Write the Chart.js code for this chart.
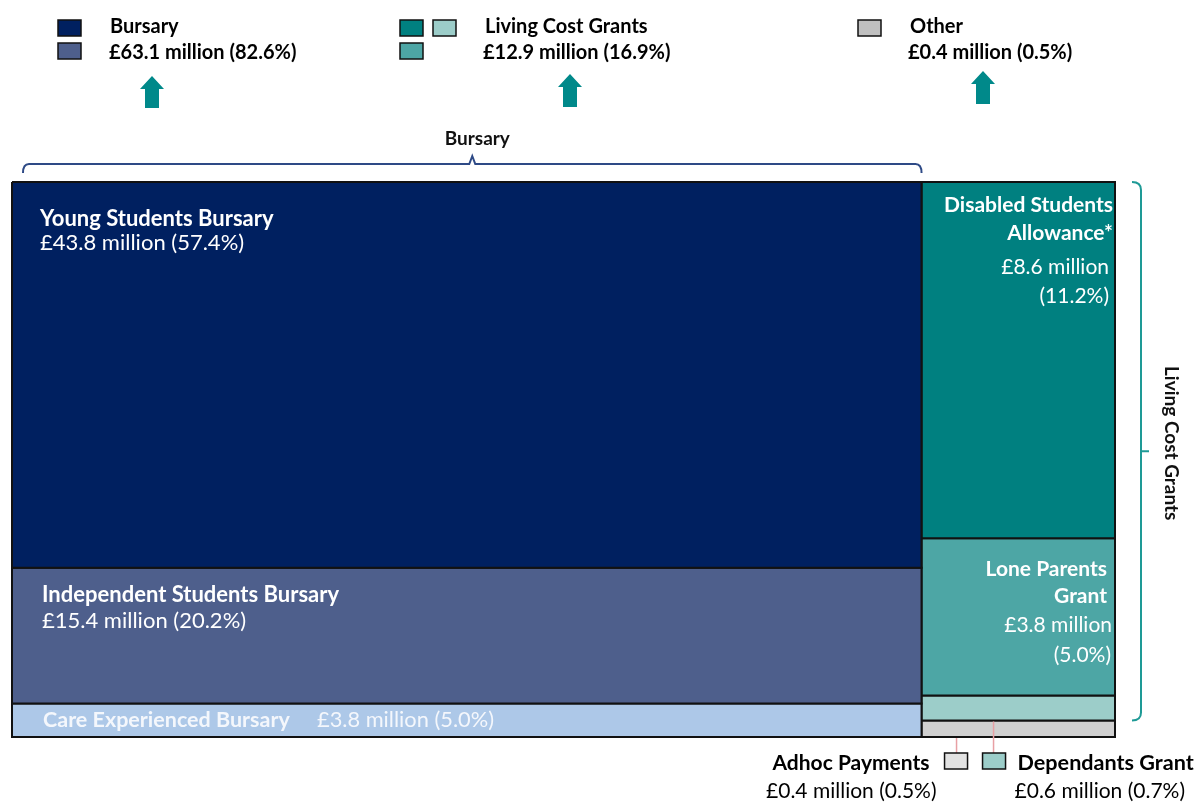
<!DOCTYPE html>
<html lang="en">
<head>
<meta charset="utf-8">
<title>Student support funding</title>
<script src="https://cdn.jsdelivr.net/npm/chart.js@4.4.1/dist/chart.umd.min.js"></script>
<style>
  html, body { margin: 0; padding: 0; background: #fff; }
  #wrap { width: 1198px; height: 803px; }
</style>
</head>
<body>
<div id="wrap"><canvas id="myChart" width="1198" height="803"></canvas></div>
<script>
//! DATA

// top level groups shown in the key
const groupNames = ["Bursary", "Living Cost Grants", "Other"];
const groupValues = [63.1, 12.9, 0.4];
const groupShares = [82.6, 16.9, 0.5];

// individual funds, in the order they are stacked
const fundNames = [
  "Young Students Bursary",
  "Independent Students Bursary",
  "Care Experienced Bursary",
  "Disabled Students Allowance*",
  "Lone Parents Grant",
  "Dependants Grant",
  "Adhoc Payments"
];
const fundValues = [43.8, 15.4, 3.8, 8.6, 3.8, 0.6, 0.4];
const fundShares = [57.4, 20.2, 5.0, 11.2, 5.0, 0.7, 0.5];
// treemap column of each fund (0 = bursary, 1 = living cost grants + other)
const fundColumn = [0, 0, 0, 1, 1, 1, 1];

//! STYLE

const fundColors = ["#002060", "#4e5f8c", "#adc8e8", "#008080", "#4da6a5", "#9ccdc9", "#d0d0d0"];
const FONT = "Lato, 'Open Sans', sans-serif";
const TEAL = "#00898a";

//! LAYOUT

// column widths follow the column totals, heights the share inside the column
const columnTotals = [0, 0];
fundValues.forEach((v, i) => (columnTotals[fundColumn[i]] += v));
const columnStart = [0, columnTotals[0]];
const used = [0, 0];
const tiles = fundValues.map((v, i) => {
  const c = fundColumn[i];
  const yTop = 1 - used[c] / columnTotals[c];
  used[c] += v;
  return {
    x0: columnStart[c],
    x1: columnStart[c] + columnTotals[c],
    yTop: yTop,
    yBot: Math.max(0, 1 - used[c] / columnTotals[c])
  };
});

const money = (v, s) => `£${v.toFixed(1)} million (${s.toFixed(1)}%)`;

//! FUNCTIONS

function text(ctx, str, x, y, font, color, align) {
  ctx.font = font;
  ctx.fillStyle = color || "#000";
  ctx.textAlign = align || "left";
  ctx.textBaseline = "alphabetic";
  ctx.fillText(str, x, y);
}

function swatch(ctx, x, y, color) {
  ctx.fillStyle = color;
  ctx.fillRect(x, y, 23, 16);
  ctx.strokeStyle = "#111";
  ctx.lineWidth = 1.5;
  ctx.strokeRect(x, y, 23, 16);
}

function arrow(ctx, cx, top, bottom) {
  ctx.fillStyle = TEAL;
  ctx.beginPath();
  ctx.moveTo(cx, top);
  ctx.lineTo(cx + 12, top + 13);
  ctx.lineTo(cx + 7, top + 13);
  ctx.lineTo(cx + 7, bottom);
  ctx.lineTo(cx - 7, bottom);
  ctx.lineTo(cx - 7, top + 13);
  ctx.lineTo(cx - 12, top + 13);
  ctx.closePath();
  ctx.fill();
}

// labels, key, brackets and call-outs
const decorations = {
  id: "decorations",
  afterDatasetsDraw(chart) {
    const { ctx, scales: { x, y } } = chart;
    const px = tiles.map(t => ({
      left: x.getPixelForValue(t.x0),
      right: x.getPixelForValue(t.x1),
      top: y.getPixelForValue(t.yTop),
      bottom: y.getPixelForValue(t.yBot)
    }));
    ctx.save();

    // key
    const keyBold = `bold 20px ${FONT}`;
    swatch(ctx, 58, 20, fundColors[0]);
    swatch(ctx, 58, 43, fundColors[1]);
    text(ctx, groupNames[0], 110, 33, keyBold);
    text(ctx, money(groupValues[0], groupShares[0]), 109, 59, keyBold);
    arrow(ctx, 152, 76, 108);

    swatch(ctx, 400, 20, fundColors[3]);
    swatch(ctx, 433, 20, fundColors[5]);
    swatch(ctx, 400, 43, fundColors[4]);
    text(ctx, groupNames[1], 485, 33, keyBold);
    text(ctx, money(groupValues[1], groupShares[1]), 483, 59, keyBold);
    arrow(ctx, 570, 74, 107);

    swatch(ctx, 858, 20, "#c0c0c0");
    text(ctx, groupNames[2], 910, 33, keyBold);
    text(ctx, money(groupValues[2], groupShares[2]), 908, 59, keyBold);
    arrow(ctx, 983, 71, 104);

    // bursary bracket over the left column
    const bL = px[0].left + 11, bR = px[0].right, bC = (bL + bR) / 2, bY = px[0].top - 18;
    ctx.strokeStyle = "#2e4a86";
    ctx.lineWidth = 2;
    ctx.beginPath();
    ctx.moveTo(bL, bY + 9);
    ctx.quadraticCurveTo(bL, bY, bL + 6, bY);
    ctx.lineTo(bC - 3, bY);
    ctx.lineTo(bC, bY - 8);
    ctx.lineTo(bC + 3, bY);
    ctx.lineTo(bR - 6, bY);
    ctx.quadraticCurveTo(bR, bY, bR, bY + 9);
    ctx.stroke();
    text(ctx, groupNames[0], bC + 5, 145, `bold 19px ${FONT}`, "#111", "center");

    // living cost grants bracket beside the right column
    const lX = px[3].right + 26, lT = px[3].top, lB = px[5].bottom, lM = (lT + lB) / 2;
    ctx.strokeStyle = "#1e9a96";
    ctx.beginPath();
    ctx.moveTo(lX - 9, lT);
    ctx.quadraticCurveTo(lX, lT, lX, lT + 8);
    ctx.lineTo(lX, lB - 8);
    ctx.quadraticCurveTo(lX, lB, lX - 9, lB);
    ctx.moveTo(lX, lM);
    ctx.lineTo(lX + 8, lM);
    ctx.stroke();
    ctx.save();
    ctx.translate(lX + 30, lM - 8);
    ctx.rotate(Math.PI / 2);
    ctx.textBaseline = "middle";
    ctx.textAlign = "center";
    ctx.font = `bold 19px ${FONT}`;
    ctx.fillStyle = "#111";
    ctx.fillText(groupNames[1], 0, 0);
    ctx.restore();

    // tile labels
    const tBold = `bold 22px ${FONT}`, tReg = `22px ${FONT}`;
    const white = "#fff";
    text(ctx, fundNames[0], px[0].left + 28, px[0].top + 44, tBold, white);
    text(ctx, money(fundValues[0], fundShares[0]), px[0].left + 28, px[0].top + 68, tReg, white);

    text(ctx, fundNames[1], px[1].left + 30, px[1].top + 34, tBold, white);
    text(ctx, money(fundValues[1], fundShares[1]), px[1].left + 30, px[1].top + 60, tReg, white);

    const careY = (px[2].top + px[2].bottom) / 2 + 7;
    text(ctx, fundNames[2], px[2].left + 31, careY, `bold 21.5px ${FONT}`, "#f4f7fc");
    text(ctx, money(fundValues[2], fundShares[2]), px[2].left + 305, careY, `21.8px ${FONT}`, "#f4f7fc");

    const sBold = `bold 21px ${FONT}`, sReg = `21px ${FONT}`;
    const r3 = px[3].right;
    text(ctx, "Disabled Students", r3 - 2, px[3].top + 30, sBold, white, "right");
    text(ctx, "Allowance*", r3 - 2, px[3].top + 58, sBold, white, "right");
    text(ctx, `£${fundValues[3].toFixed(1)} million`, r3 - 6, px[3].top + 92, sReg, white, "right");
    text(ctx, `(${fundShares[3].toFixed(1)}%)`, r3 - 6, px[3].top + 121, sReg, white, "right");

    const r4 = px[4].right;
    text(ctx, "Lone Parents", r4 - 8, px[4].top + 38, sBold, white, "right");
    text(ctx, "Grant", r4 - 8, px[4].top + 65, sBold, white, "right");
    text(ctx, `£${fundValues[4].toFixed(1)} million`, r4 - 3, px[4].top + 94, sReg, white, "right");
    text(ctx, `(${fundShares[4].toFixed(1)}%)`, r4 - 4, px[4].top + 124, sReg, white, "right");

    // call-outs for the two thin tiles
    const l6 = px[6].left;
    ctx.strokeStyle = "#e8a0a4";
    ctx.lineWidth = 1.5;
    ctx.beginPath();
    ctx.moveTo(l6 + 35, px[6].bottom + 1);
    ctx.lineTo(l6 + 35, 753);
    ctx.moveTo(l6 + 72, px[5].bottom + 1);
    ctx.lineTo(l6 + 72, 753);
    ctx.stroke();
    swatch(ctx, l6 + 23, 753, "#e2e2e2");
    swatch(ctx, l6 + 61, 753, fundColors[5]);

    text(ctx, fundNames[6], l6 + 8, 770, `bold 21px ${FONT}`, "#000", "right");
    text(ctx, money(fundValues[6], fundShares[6]), l6 + 15, 798, `21px ${FONT}`, "#000", "right");
    text(ctx, fundNames[5], l6 + 96, 770, `bold 21.6px ${FONT}`, "#000", "left");
    text(ctx, money(fundValues[5], fundShares[5]), l6 + 93, 798, `21px ${FONT}`, "#000", "left");

    ctx.restore();
  }
};

//! CHART

const ctx = document.getElementById("myChart");
const datasets = tiles.map((t, i) => ({
  label: fundNames[i],
  data: [
    { x: t.x0, y: t.yTop },
    { x: t.x1, y: t.yTop },
    { x: t.x1, y: t.yBot },
    { x: t.x0, y: t.yBot },
    { x: t.x0, y: t.yTop }
  ],
  backgroundColor: fundColors[i],
  borderColor: "#111",
  borderWidth: 2,
  borderJoinStyle: "miter",
  fill: "shape",
  pointRadius: 0,
  tension: 0,
  clip: false
}));

new Chart(ctx, {
  type: "line",
  data: { datasets: datasets },
  options: {
    responsive: false,
    animation: false,
    events: [],
    layout: { padding: { left: 12, right: 83, top: 182, bottom: 66 } },
    plugins: { legend: { display: false }, tooltip: { enabled: false } },
    scales: {
      x: { type: "linear", display: false, min: 0, max: columnTotals[0] + columnTotals[1] },
      y: { type: "linear", display: false, min: 0, max: 1 }
    }
  },
  plugins: [decorations]
});
</script>
</body>
</html>
